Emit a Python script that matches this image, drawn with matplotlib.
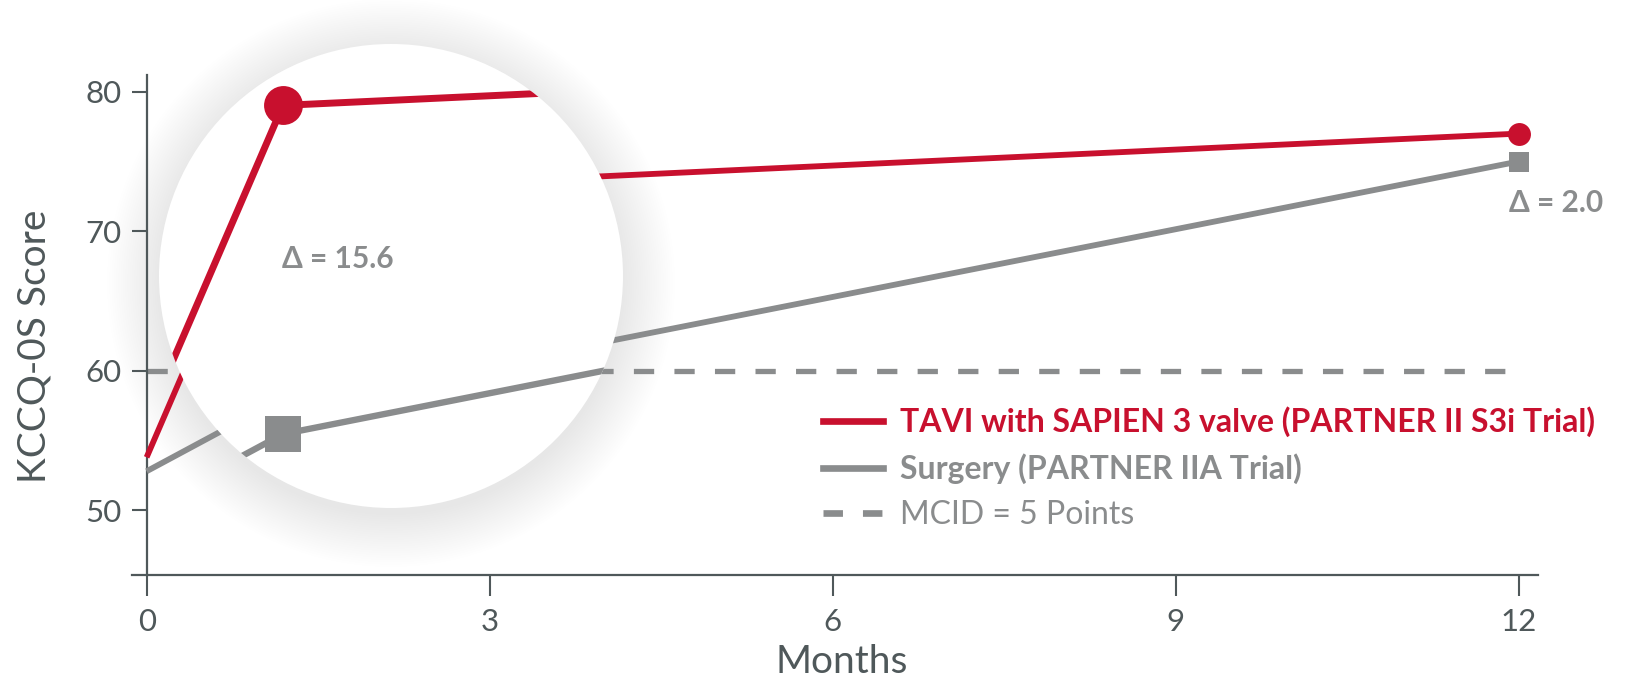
import numpy as np
import matplotlib
matplotlib.use("Agg")
import matplotlib.pyplot as plt
from matplotlib.patches import Circle
from matplotlib.lines import Line2D
from matplotlib import font_manager
from matplotlib.font_manager import FontProperties

# ---------------- data ----------------
months = [0, 1, 12]
tavi = [53.8, 72.8, 77.0]
surgery = [52.8, 57.2, 75.0]
mcid_level = 60
x_ticks = [0, 3, 6, 9, 12]
y_ticks = [50, 60, 70, 80]
delta_1m = "Δ = 15.6"
delta_12m = "Δ = 2.0"
legend_labels = ["TAVI with SAPIEN 3 valve (PARTNER II S3i Trial)",
                 "Surgery (PARTNER IIA Trial)",
                 "MCID = 5 Points"]
x_label = "Months"
y_label = "KCCQ-0S Score"

# ---------------- style ----------------
RED = "#C8102E"
GRAY = "#8A8C8D"
AXC = "#4F585A"


def pick(*names):
    for n in names:
        try:
            font_manager.findfont(FontProperties(family=n), fallback_to_default=False)
            return n
        except Exception:
            pass
    return "DejaVu Sans"


FONT = pick("Lato", "Open Sans", "Noto Sans")
FAM = [FONT, "DejaVu Sans"]
plt.rcParams["font.family"] = FAM

W, H, DPI = 1630, 692, 100
fig = plt.figure(figsize=(W / DPI, H / DPI), dpi=DPI)
ax = fig.add_axes([132 / W, 1 - 574.5 / H, (1538 - 132) / W, (574.5 - 75) / H])
ax.set_xlim(-0.128, 12.17)
ax.set_ylim(45.4, 81.2)

for s in ["top", "right"]:
    ax.spines[s].set_visible(False)
ax.spines["left"].set_position(("data", 0))
for s in ["left", "bottom"]:
    ax.spines[s].set_color(AXC)
    ax.spines[s].set_linewidth(1.6)

ax.set_xticks(x_ticks)
ax.set_yticks(y_ticks)
ax.tick_params(axis="y", length=11, width=1.5, pad=7, labelsize=22.5, colors=AXC)
ax.tick_params(axis="x", length=15, width=1.5, pad=9, labelsize=22.5, colors=AXC)

ax.set_xlabel(x_label, fontsize=28, color=AXC, va="center")
ax.xaxis.set_label_coords(0.5048, -0.175)
ax.set_ylabel(y_label, fontsize=28, color=AXC, va="center")
ax.yaxis.set_label_coords(-0.0697, 0.4575)

# main series
ax.hlines(mcid_level, months[0], months[-1], colors=GRAY, lw=3.8,
          linestyles=[(0, (3.84, 3.84))], zorder=2)
ax.plot(months, surgery, color=GRAY, lw=4.2, marker="s", ms=14.9, mew=0,
        markevery=[2], zorder=3, solid_capstyle="butt")
ax.plot(months, tavi, color=RED, lw=4.2, marker="o", ms=16.5, mew=0,
        markevery=[2], zorder=4, solid_capstyle="butt")

ax.text(11.92, 71.39, delta_12m, ha="left", va="baseline", fontsize=21.5,
        fontweight="bold", color=GRAY)

# ---------------- magnifier ----------------
cx, cy, r = 391, 276, 232
axin = fig.add_axes([(cx - r) / W, 1 - (cy + r) / H, 2 * r / W, 2 * r / H])
axin.set_axis_off()
ZOOM = 1.51
ZOOM_ANCHOR = (0.623, 60.6)
C = ax.transData.transform(ZOOM_ANCHOR)
bb = axin.bbox
corners = np.array([[bb.x0, bb.y0], [bb.x1, bb.y1]])
src = C + (corners - C) / ZOOM
src_d = ax.transData.inverted().transform(src)
axin.set_xlim(src_d[0, 0], src_d[1, 0])
axin.set_ylim(src_d[0, 1], src_d[1, 1])

# soft shadow around the lens
for d in np.linspace(0, 52, 24):
    ax.add_patch(Circle((0.5, 0.5 - 7 / (2 * r)), 0.5 + d / (2 * r),
                        transform=axin.transAxes, fc="black", ec="none",
                        alpha=0.0045, zorder=1, clip_on=False))

disk = Circle((0.5, 0.5), 0.5, transform=axin.transAxes, fc="white", ec="none", zorder=0)
axin.add_patch(disk)
l1, = axin.plot(months, surgery, color=GRAY, lw=4.6, marker="s", ms=25.7, mew=0,
                markevery=[1], zorder=3, solid_capstyle="butt")
l2, = axin.plot(months, tavi, color=RED, lw=5.0, marker="o", ms=28, mew=0,
                markevery=[1], zorder=4, solid_capstyle="butt")
for ln in (l1, l2):
    ln.set_clip_path(disk)
axin.text(0.385, 0.537, delta_1m, transform=axin.transAxes, ha="center", va="center",
          fontsize=21.5, fontweight="bold", color=GRAY)

# ---------------- legend ----------------
handles = [Line2D([], [], color=RED, lw=4.8),
           Line2D([], [], color=GRAY, lw=4.8),
           Line2D([], [], color=GRAY, lw=4.8, linestyle=(0, (2.92, 3.0)))]
leg = ax.legend(handles, legend_labels, loc="upper left", bbox_to_anchor=(0.4915, 0.337),
                frameon=False, borderpad=0, borderaxespad=0, handlelength=1.88,
                handletextpad=0.53, labelspacing=0.51,
                prop=FontProperties(family=FAM, size=23))
txts = leg.get_texts()
txts[0].set_color(RED); txts[0].set_fontweight("bold")
txts[1].set_color(GRAY); txts[1].set_fontweight("bold")
txts[2].set_color(GRAY)

fig.savefig("out.png", dpi=DPI, facecolor="white")
